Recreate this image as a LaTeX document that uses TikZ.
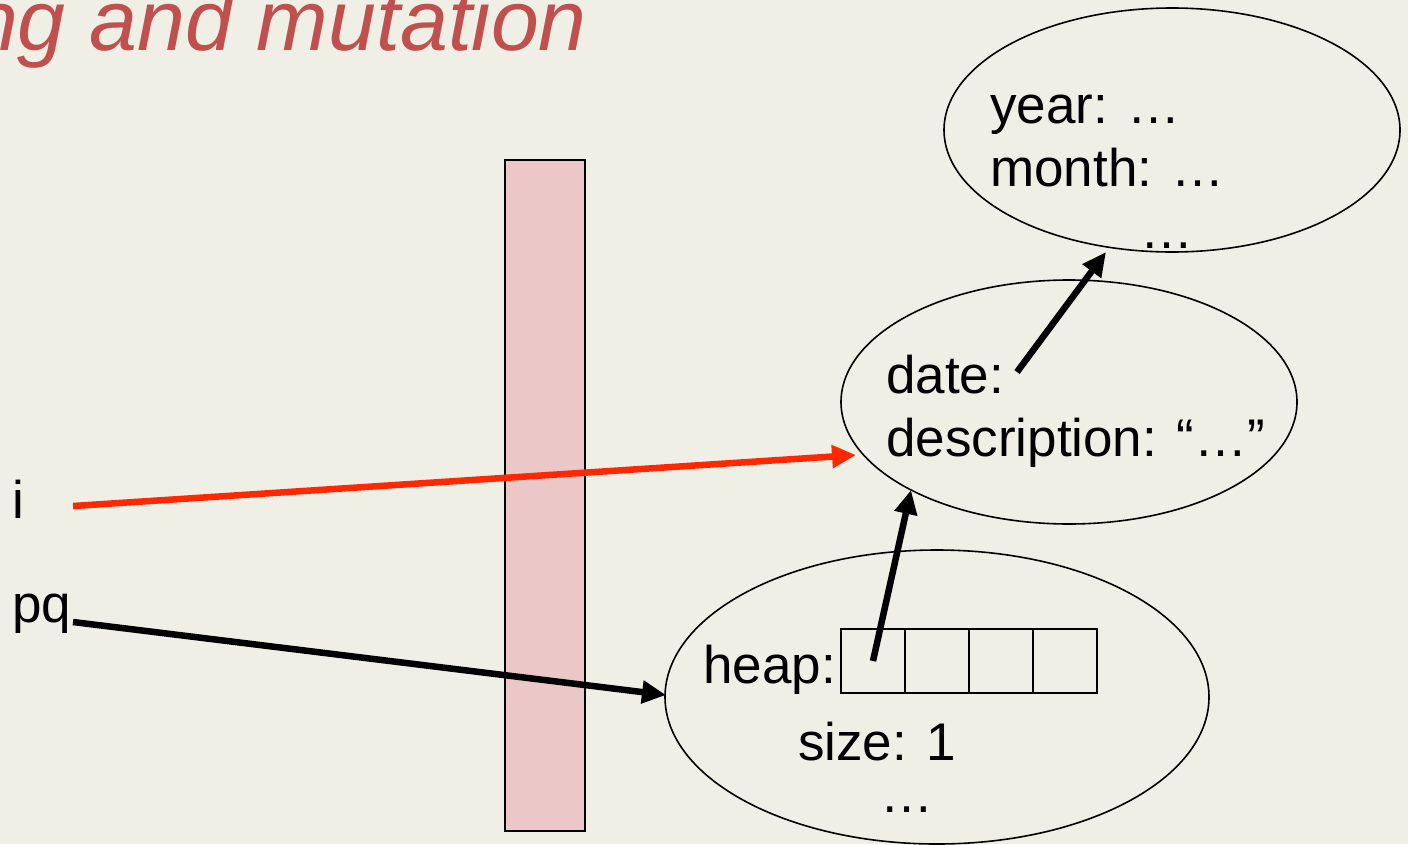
\documentclass[tikz,border=0pt]{standalone}
\usepackage{fontspec}
\setmainfont{Liberation Sans}
\usetikzlibrary{arrows.meta}
\definecolor{bg}{RGB}{240,239,230}
\definecolor{titlered}{RGB}{192,80,77}
\definecolor{pinkbar}{RGB}{236,199,199}
\definecolor{arrred}{RGB}{255,40,0}
\tikzset{
  txt/.style={anchor=base west, inner sep=0pt, font=\fontsize{53}{61}\selectfont},
  obj/.style={draw=black, line width=1.6pt},
  ptr/.style={line width=6.5pt, -{Triangle[length=24pt,width=22pt]}},
}
\begin{document}
\begin{tikzpicture}[x=1pt,y=-1pt]
\useasboundingbox (0,0) rectangle (1408,844);
\fill[bg] (0,0) rectangle (1408,844);
% title
\node[anchor=base east, inner sep=0pt, text=titlered, font=\fontsize{86}{96}\selectfont\itshape] (title) at (587,50) {ng and mutation};
% bar
\node[obj, fill=pinkbar, line width=1.4pt, minimum width=80pt, minimum height=671pt, inner sep=0pt] (bar) at (545,495.5) {};
% ellipses
\draw[obj] (1172,130) ellipse [x radius=228, y radius=122];
\coordinate (topE) at (1172,130);
\draw[obj] (1069,402) ellipse [x radius=228, y radius=122];
\coordinate (midE) at (1069,402);
\draw[obj] (937,697) ellipse [x radius=272, y radius=147];
\coordinate (botE) at (937,697);
% heap cells
\foreach \k in {0,1,2,3} {
  \node[obj, line width=1.4pt, minimum width=64pt, minimum height=64pt, inner sep=0pt] (cell\k) at ({873+64*\k},661) {};
}
% texts
\node[txt] (year) at (990,123) {year: …};
\node[txt] (month) at (990,186) {month: …};
\node[txt] (tdots) at (1140,248) {…};
\node[txt] (date) at (886,393) {date:};
\node[txt] (desc) at (886,456) {description: “…”};
\node[txt] (heap) at (703,683) {heap:};
\node[txt] (size) at (798,760) {size: 1};
\node[txt] (bdots) at (880,812) {…};
\node[txt] (i) at (12,518) {i};
\node[txt] (pq) at (12,622) {pq};
% pointer coordinates
\coordinate (iS) at (73,506);
\coordinate (iT) at (856,455);
\coordinate (pqS) at (73,622);
\coordinate (pqT) at (666,695);
\coordinate (hS) at (873,661);
\coordinate (hT) at (911,490);
\coordinate (dS) at (1017,372);
\coordinate (dT) at (1106,252);
\draw[ptr, arrred] (iS) -- (iT);
\draw[ptr] (pqS) -- (pqT);
\draw[ptr] (hS) -- (hT);
\draw[ptr] (dS) -- (dT);
\end{tikzpicture}
\end{document}
